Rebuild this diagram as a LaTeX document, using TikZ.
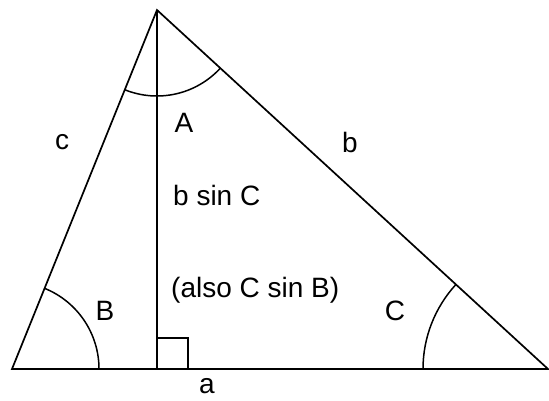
\documentclass[tikz,border=0pt]{standalone}
\usepackage{fontspec}
\setmainfont{Liberation Sans}
\usetikzlibrary{angles, calc}
\tikzset{
  edge/.style={line width=1.7pt, line join=miter},
  ang/.style={draw, line width=1.5pt},
  lbl/.style={font=\fontsize{28}{32}\selectfont, inner sep=0pt},
}

\begin{document}
\begin{tikzpicture}[x=1pt, y=1pt]
  \useasboundingbox (0,0) rectangle (549,400);

  \coordinate (B) at (12,31);
  \coordinate (A) at (157,390);
  \coordinate (C) at (548,31);
  \coordinate (H) at (157,31);

  \draw[edge] (B) -- (A) -- (C) -- cycle;
  \draw[edge] (A) -- (H);
  \draw[edge] (H) rectangle ++(31,31);

  \pic[ang, angle radius=87pt] {angle=C--B--A};
  \pic[ang, angle radius=125pt] {angle=A--C--B};
  \pic[ang, angle radius=86pt] {angle=B--A--C};

  \node[lbl] (lA) at (184,277) {A};
  \node[lbl] (lc) at (62,258) {c};
  \node[lbl] (lb) at (350,258) {b};
  \node[lbl, anchor=west] (alt) at (173,205) {b sin C};
  \node[lbl, anchor=west] (alt2) at (171,110) {(also C sin B)};
  \node[lbl] (lB) at (105,89) {B};
  \node[lbl] (lC) at (395,89) {C};
  \node[lbl] (la) at (207,14) {a};
\end{tikzpicture}
\end{document}
